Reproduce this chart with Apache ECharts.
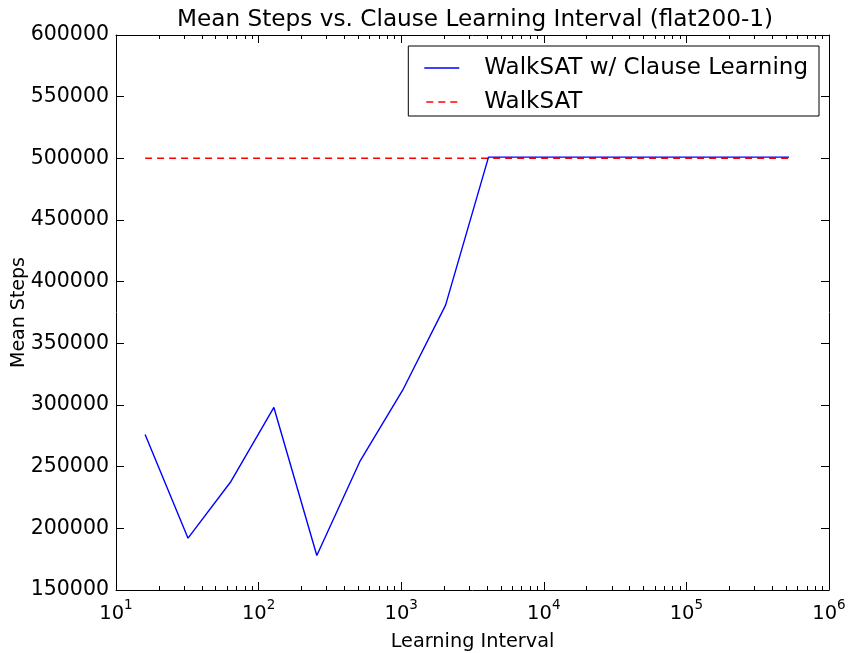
<!DOCTYPE html>
<html><head><meta charset="utf-8">
<script src="https://cdn.jsdelivr.net/npm/echarts@6/dist/echarts.min.js"></script>
<style>html,body{margin:0;padding:0;background:#fff}#c{width:849px;height:653px}</style>
</head><body><div id="c"></div>
<script>
var intervals = [16, 32, 64, 128, 256, 512, 1024, 2048, 4096, 8192, 16384, 32768, 65536, 131072, 262144, 524288];
var clauseSteps = [276000, 192000, 238000, 298000, 178000, 254000, 312000, 381000, 501000, 501000, 501000, 501000, 501000, 501000, 501000, 501000];
var walksatX = [16, 524288];
var walksatSteps = [500000, 500000];
var xTickExp = {10: '1', 100: '2', 1000: '3', 10000: '4', 100000: '5', 1000000: '6'};

var minorTicks = [];
for (var d = 10; d < 1000000; d *= 10) {
  for (var k = 2; k <= 9; k++) minorTicks.push(d * k);
}
var FONT = 'DejaVu Sans';
var chart = echarts.init(document.getElementById('c'), null, {renderer: 'canvas'});

function xAxisBase(extra) {
  var a = {
    type: 'log', logBase: 10, min: 10, max: 1000000,
    axisLine: {show: true, onZero: false, lineStyle: {color: '#000', width: 1}},
    splitLine: {show: false},
    axisLabel: {show: false},
    axisTick: {show: false}
  };
  for (var k in extra) a[k] = extra[k];
  return a;
}

var option = {
  animation: false,
  backgroundColor: '#fff',
  title: {
    text: 'Mean Steps vs. Clause Learning Interval (flat200-1)',
    left: 470, top: 3, textAlign: 'center',
    textStyle: {fontFamily: FONT, fontSize: 23.2, fontWeight: 'normal', color: '#000'}
  },
  grid: {left: 116, right: 20, top: 35, bottom: 63, containLabel: false, outerBoundsMode: 'none'},
  legend: {
    orient: 'vertical', right: 30, top: 46,
    backgroundColor: '#fff',
    borderColor: '#000', borderWidth: 1, borderRadius: 0,
    padding: [9, 11, 1, 16],
    itemWidth: 35, itemHeight: 1.5, itemGap: 8,
    textStyle: {fontFamily: FONT, fontSize: 23, color: '#000', lineHeight: 26, padding: [0, 0, 0, 20]},
    data: [
      {name: 'WalkSAT w/ Clause Learning', icon: 'path://M0,0h35v1.5h-35Z'},
      {name: 'WalkSAT', icon: 'path://M0,0h7v1.5h-7Z M12,0h7v1.5h-7Z M24,0h7v1.5h-7Z'}
    ]
  },
  xAxis: [
    xAxisBase({
      position: 'bottom',
      name: 'Learning Interval', nameLocation: 'middle', nameGap: 42,
      nameTextStyle: {fontFamily: FONT, fontSize: 19.3, color: '#000'},
      axisTick: {show: true, inside: true, length: 8, lineStyle: {color: '#000'}},
      axisLabel: {
        show: true, margin: 8, color: '#000',
        formatter: function (v) { return '{b|10}{s|' + (xTickExp[v] || '') + '}'; },
        rich: {
          b: {fontFamily: FONT, fontSize: 19.5, color: '#000', verticalAlign: 'bottom'},
          s: {fontFamily: FONT, fontSize: 13.5, color: '#000', verticalAlign: 'top', padding: [0, 0, 12, 0]}
        }
      }
    }),
    xAxisBase({
      position: 'top',
      axisTick: {show: true, inside: true, length: 8, lineStyle: {color: '#000'}}
    }),
    xAxisBase({
      position: 'bottom', axisLine: {show: false},
      axisTick: {show: true, inside: true, length: 4, customValues: minorTicks, lineStyle: {color: '#000'}}
    }),
    xAxisBase({
      position: 'top', axisLine: {show: false},
      axisTick: {show: true, inside: true, length: 4, customValues: minorTicks, lineStyle: {color: '#000'}}
    })
  ],
  yAxis: [
    {
      type: 'value', min: 150000, max: 600000, interval: 50000, position: 'left',
      name: 'Mean Steps', nameLocation: 'middle', nameGap: 87, nameMoveOverlap: false,
      nameTextStyle: {fontFamily: FONT, fontSize: 19, color: '#000'},
      axisLine: {show: true, onZero: false, lineStyle: {color: '#000'}},
      axisTick: {show: true, inside: true, length: 8, lineStyle: {color: '#000'}},
      axisLabel: {fontFamily: FONT, fontSize: 20.5, color: '#000', margin: 7,
        formatter: function (v) { return String(v); }},
      splitLine: {show: false}
    },
    {
      type: 'value', min: 150000, max: 600000, interval: 50000, position: 'right',
      axisLine: {show: true, onZero: false, lineStyle: {color: '#000'}},
      axisTick: {show: true, inside: true, length: 8, lineStyle: {color: '#000'}},
      axisLabel: {show: false},
      splitLine: {show: false}
    }
  ],
  series: [
    {
      name: 'WalkSAT w/ Clause Learning', type: 'line', xAxisIndex: 0, yAxisIndex: 0,
      data: intervals.map(function (x, i) { return [x, clauseSteps[i]]; }),
      showSymbol: false, symbol: 'none',
      lineStyle: {color: '#0000ff', width: 1.4},
      itemStyle: {color: '#0000ff'},
      z: 3
    },
    {
      name: 'WalkSAT', type: 'line', xAxisIndex: 0, yAxisIndex: 0,
      data: walksatX.map(function (x, i) { return [x, walksatSteps[i]]; }),
      showSymbol: false, symbol: 'none',
      lineStyle: {color: '#ff0000', width: 1.5, type: [7, 5]},
      itemStyle: {color: '#ff0000'},
      z: 2
    }
  ]
};
chart.setOption(option);
</script>
</body></html>
